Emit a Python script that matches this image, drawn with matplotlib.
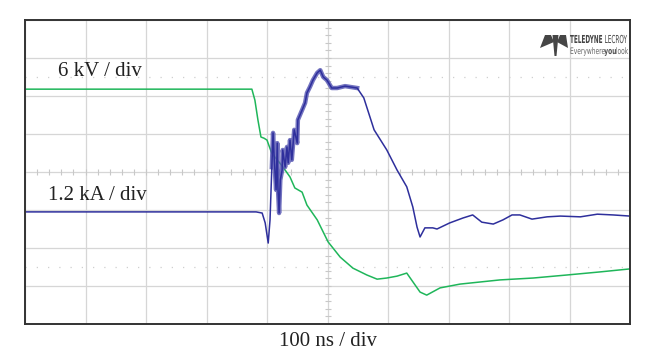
import numpy as np
import matplotlib
matplotlib.use("Agg")
import matplotlib.pyplot as plt
from matplotlib.textpath import TextPath
from matplotlib.patches import PathPatch, Polygon
from matplotlib.font_manager import FontProperties
from matplotlib.transforms import Affine2D

# time in ns (100 ns/div), trace position in divisions
green_t = [-500, -125, -120, -115, -110, -105, -100, -93, -90, -80, -70, -62, -54,
           -42, -34, -17, 1, 21, 42, 65, 82, 98, 115, 131, 153, 164, 186, 219, 285,
           340, 396, 450, 500]
green_y = [2.18, 2.18, 1.89, 1.37, 0.92, 0.89, 0.84, 0.53, 0.45, 0.26, 0.05, -0.13,
           -0.42, -0.53, -0.87, -1.26, -1.84, -2.24, -2.53, -2.71, -2.82, -2.79,
           -2.74, -2.66, -3.16, -3.24, -3.05, -2.95, -2.84, -2.79, -2.71, -2.63, -2.55]

blue_t = [-500, -118, -108, -103, -98, -95, -92, -90, -88, -85, -83, -82, -80, -78,
          -75, -74, -70, -67, -65, -62, -59, -55, -50, -49, -42, -37, -34, -29, -24,
          -17, -12, -7, -1, 7, 16, 29, 49, 60, 77, 98, 115, 131, 141, 148, 153, 161,
          174, 181, 202, 224, 240, 255, 274, 290, 305, 318, 338, 363, 385, 418, 446,
          472, 500]
blue_y = [-1.05, -1.05, -1.08, -1.34, -1.87, -1.26, 0.13, 1.03, 0.32, -0.47, 0.76,
          -0.39, -1.08, -0.21, 0.05, 0.58, 0.13, 0.66, 0.24, 0.84, 0.32, 1.11, 0.76,
          1.37, 1.63, 1.82, 2.08, 2.24, 2.42, 2.61, 2.68, 2.50, 2.42, 2.21, 2.21,
          2.26, 2.21, 1.95, 1.11, 0.58, 0.05, -0.39, -0.92, -1.45, -1.71, -1.47,
          -1.47, -1.50, -1.34, -1.21, -1.13, -1.32, -1.37, -1.26, -1.13, -1.13,
          -1.24, -1.18, -1.16, -1.18, -1.11, -1.13, -1.16]

# noisy (thick) part of the current trace
noisy_from, noisy_to = -92, 49

GREEN = "#1fb65a"
BLUE = "#2e2f9c"

fig = plt.figure(figsize=(6.54, 3.6), dpi=100)
ax = fig.add_axes([25 / 654, 36 / 360, 605 / 654, 304 / 360])
ax.set_xlim(-500, 500)
ax.set_ylim(-4, 4)

# graticule
ax.set_xticks(np.arange(-500, 501, 100))
ax.set_yticks(np.arange(-4, 5, 1))
ax.grid(True, color="#d6d6d6", lw=0.9)
ax.tick_params(length=0, labelbottom=False, labelleft=False)
for s in ax.spines.values():
    s.set_color("#333333")
    s.set_linewidth(1.4)

# minor ticks on centre axes
mx = np.arange(-500, 501, 20)
ax.plot(mx, np.zeros_like(mx), ls="none", marker="|", ms=4, color="#c8c8c8", mew=0.8)
my = np.arange(-4, 4.01, 0.2)
ax.plot(np.zeros_like(my), my, ls="none", marker="_", ms=4, color="#c8c8c8", mew=0.8)
for yy in (2.5, -2.5):
    ax.axhline(yy, color="#cfcfcf", lw=0.9, ls=(0, (1, 8)))

# traces
ax.plot(green_t, green_y, color=GREEN, lw=1.1)
bt = np.array(blue_t)
by = np.array(blue_y)
m = (bt >= noisy_from) & (bt <= noisy_to)
ax.plot(bt[m], by[m], color="#5a5ab4", lw=3.2, alpha=0.85)
ax.plot(blue_t, blue_y, color=BLUE, lw=1.1)

# labels
serif = ["Liberation Serif", "DejaVu Serif"]
fig.text(58 / 654, 1 - 72 / 360, "6 kV / div", family=serif, fontsize=15,
         color="#222222", va="center", ha="left")
fig.text(48 / 654, 1 - 195 / 360, "1.2 kA / div", family=serif, fontsize=15,
         color="#222222", va="center", ha="left")
fig.text(328 / 654, 1 - 342 / 360, "100 ns / div", family=serif, fontsize=15,
         color="#222222", va="center", ha="center")

# logo (pixel coordinates, y measured from the top)
px = Affine2D().scale(1, -1).translate(0, 360)
logo = "#454545"
for pts in ([(545, 35), (551, 35), (554, 42), (540, 48)],
            [(552.5, 35), (558.5, 35), (556.5, 56), (554.5, 56)],
            [(560, 35), (566, 35), (568, 48), (557, 42)]):
    fig.patches.append(Polygon(pts, closed=True, color=logo, lw=0, transform=px))


def squash_text(s, x, y, size, sx, weight="normal", color=logo):
    tp = TextPath((0, 0), s, size=size,
                  prop=FontProperties(family="DejaVu Sans", weight=weight))
    tr = Affine2D().scale(sx, 1).translate(x, 360 - y)
    fig.patches.append(PathPatch(tp, color=color, lw=0, transform=tr))
    return tp.get_extents().width * sx


w = squash_text("TELEDYNE", 570, 43, 11, 0.52, weight="bold")
squash_text("LECROY", 570 + w + 2.5, 43, 11, 0.52)
w = squash_text("Everywhere", 570, 54, 9, 0.66, color="#666666")
w2 = squash_text("you", 570 + w, 54, 9, 0.66, weight="bold", color="#505050")
squash_text("look", 570 + w + w2, 54, 9, 0.66, color="#666666")

fig.savefig("out.png", dpi=100, facecolor="white")
